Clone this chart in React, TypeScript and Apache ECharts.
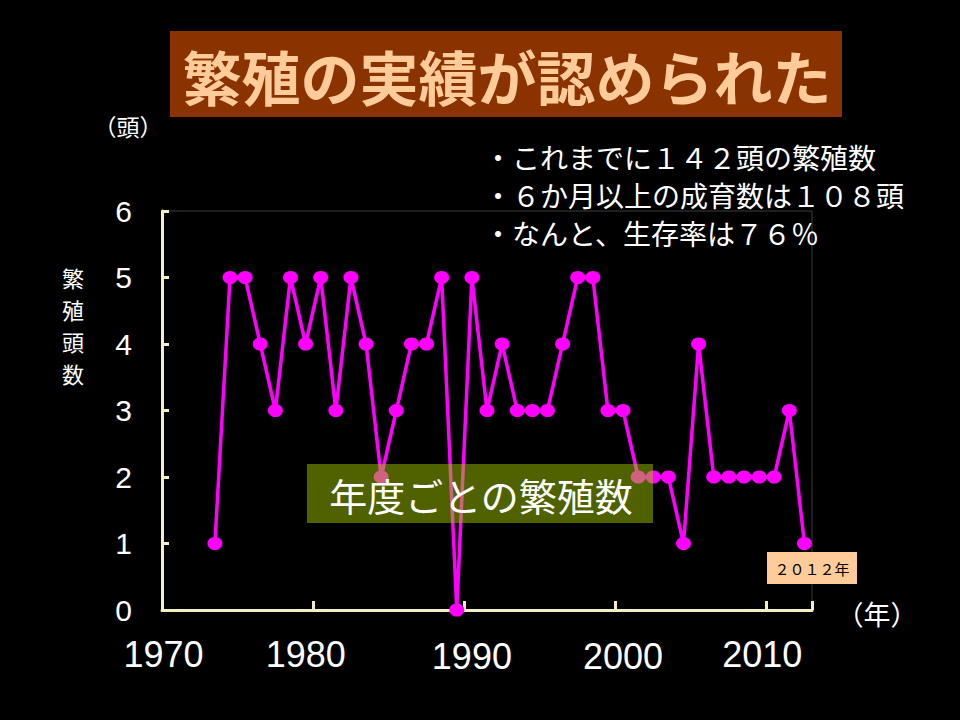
import React, { useEffect, useRef } from 'react';
import * as echarts from 'echarts';

const YEARS = [
  '1970', '1971', '1972', '1973', '1974', '1975', '1976', '1977', '1978', '1979',
  '1980', '1981', '1982', '1983', '1984', '1985', '1986', '1987', '1988', '1989',
  '1990', '1991', '1992', '1993', '1994', '1995', '1996', '1997', '1998', '1999',
  '2000', '2001', '2002', '2003', '2004', '2005', '2006', '2007', '2008', '2009',
  '2010', '2011', '2012',
];
const BIRTHS = [
  null, null, null, 1, 5, 5, 4, 3, 5, 4,
  5, 3, 5, 4, 2, 3, 4, 4, 5, 0,
  5, 3, 4, 3, 3, 3, 4, 5, 5, 3,
  3, 2, 2, 2, 1, 4, 2, 2, 2, 2,
  2, 3, 1,
];
const X_TICK_LABELS = ['1970', '1980', '1990', '2000', '2010'];
const Y_MIN = 0;
const Y_MAX = 6;
const TITLE = '繁殖の実績が認められた';
const NOTES = ['・これまでに１４２頭の繁殖数', '・６か月以上の成育数は１０８頭', '・なんと、生存率は７６％'];
const SERIES_LABEL = '年度ごとの繁殖数';
const LAST_LABEL = '２０１２年';
const Y_UNIT = '（頭）';
const X_UNIT = '（年）';
const Y_NAME = ['繁', '殖', '頭', '数'];

const NUM_FONT = '"Liberation Sans", Arial, sans-serif';
const JP_FONT = '"Noto Sans CJK JP", sans-serif';
const AXIS_COLOR = '#F2EFC4';

export default function App() {
  const ref = useRef<HTMLDivElement>(null);

  useEffect(() => {
    if (!ref.current) return;
    const chart = echarts.init(ref.current, null, { renderer: 'svg' });

    const labelPad: Record<string, number[]> = {
      '1970': [0, 12, 0, 0],
      '1980': [0, 30, 0, 0],
      '1990': [4, 0, 0, 0],
      '2000': [4, 0, 0, 0],
      '2010': [0, 24, 0, 0],
    };
    const rich: Record<string, any> = {};
    X_TICK_LABELS.forEach((l, i) => {
      rich['l' + i] = {
        fontSize: 36,
        fontFamily: NUM_FONT,
        color: '#ffffff',
        lineHeight: 36,
        padding: labelPad[l] || [0, 0, 0, 0],
      };
    });

    chart.setOption({
      animation: false,
      backgroundColor: '#000000',
      grid: {
        left: 162,
        right: 148,
        top: 211,
        bottom: 110,
        show: true,
        borderColor: '#3c3c3c',
        borderWidth: 1,
        backgroundColor: 'transparent',
      },
      xAxis: {
        type: 'category',
        data: YEARS,
        boundaryGap: true,
        axisLine: { show: true, lineStyle: { color: AXIS_COLOR, width: 3 } },
        axisTick: {
          show: true,
          inside: true,
          length: 9,
          lineStyle: { color: AXIS_COLOR, width: 3 },
          interval: (idx: number, val: string) => X_TICK_LABELS.includes(val) && val !== '1970',
        },
        axisLabel: {
          show: true,
          margin: 26,
          interval: (idx: number, val: string) => X_TICK_LABELS.includes(val),
          formatter: (val: string) => {
            const i = X_TICK_LABELS.indexOf(val);
            return i >= 0 ? `{l${i}|${val}}` : '';
          },
          rich,
        },
        splitLine: { show: false },
      },
      yAxis: {
        type: 'value',
        min: Y_MIN,
        max: Y_MAX,
        interval: 1,
        axisLine: { show: true, lineStyle: { color: AXIS_COLOR, width: 3 } },
        axisTick: { show: true, inside: true, length: 7, lineStyle: { color: AXIS_COLOR, width: 3 } },
        axisLabel: { color: '#ffffff', fontSize: 30, fontFamily: NUM_FONT, margin: 30 },
        splitLine: { show: false },
      },
      series: [
        {
          type: 'line',
          data: BIRTHS,
          connectNulls: false,
          showAllSymbol: true,
          symbol: 'circle',
          symbolSize: [15, 13],
          lineStyle: { color: '#FF00FF', width: 3.5 },
          itemStyle: { color: '#FF00FF' },
          z: 5,
        },
      ],
      graphic: [
        {
          type: 'rect',
          shape: { x: 170, y: 31, width: 672, height: 86 },
          style: { fill: '#8B3300' },
          z: 50,
        },
        {
          type: 'text',
          x: 507,
          y: 75,
          z: 51,
          style: {
            text: TITLE,
            fill: '#FFCC99',
            fontSize: 59,
            fontWeight: 'bold',
            fontFamily: JP_FONT,
            align: 'center',
            verticalAlign: 'middle',
          },
        },
        ...NOTES.map((t, i) => ({
          type: 'text',
          x: 484,
          y: 157 + i * 38,
          z: 51,
          style: {
            text: t,
            fill: '#ffffff',
            fontSize: 28,
            lineHeight: 32,
            fontFamily: JP_FONT,
            align: 'left',
            verticalAlign: 'middle',
          },
        })),
        {
          type: 'text',
          x: 128,
          y: 126,
          z: 51,
          style: {
            text: Y_UNIT,
            fill: '#ffffff',
            fontSize: 23,
            fontFamily: JP_FONT,
            align: 'center',
            verticalAlign: 'middle',
          },
        },
        ...Y_NAME.map((c, i) => ({
          type: 'text',
          x: 73,
          y: 277 + i * 32,
          z: 51,
          style: {
            text: c,
            fill: '#ffffff',
            fontSize: 22,
            lineHeight: 24,
            fontFamily: JP_FONT,
            align: 'center',
            verticalAlign: 'middle',
          },
        })),
        {
          type: 'text',
          x: 877,
          y: 613,
          z: 51,
          style: {
            text: X_UNIT,
            fill: '#ffffff',
            fontSize: 27,
            fontFamily: JP_FONT,
            align: 'center',
            verticalAlign: 'middle',
          },
        },
        {
          type: 'rect',
          shape: { x: 307, y: 464, width: 346, height: 59 },
          style: { fill: 'rgba(160,196,0,0.5)' },
          z: 100,
        },
        {
          type: 'text',
          x: 481,
          y: 494,
          z: 101,
          style: {
            text: SERIES_LABEL,
            fill: '#ffffff',
            fontSize: 38,
            fontFamily: JP_FONT,
            align: 'center',
            verticalAlign: 'middle',
          },
        },
        {
          type: 'rect',
          shape: { x: 767, y: 552, width: 90, height: 32 },
          style: { fill: '#FFCC99' },
          z: 100,
        },
        {
          type: 'text',
          x: 812,
          y: 568,
          z: 101,
          style: {
            text: LAST_LABEL,
            fill: '#000000',
            fontSize: 15,
            fontFamily: JP_FONT,
            align: 'center',
            verticalAlign: 'middle',
          },
        },
      ],
    });

    return () => chart.dispose();
  }, []);

  return (
    <div
      ref={ref}
      style={{ position: 'fixed', left: 0, top: 0, width: 960, height: 720, background: '#000' }}
    />
  );
}
